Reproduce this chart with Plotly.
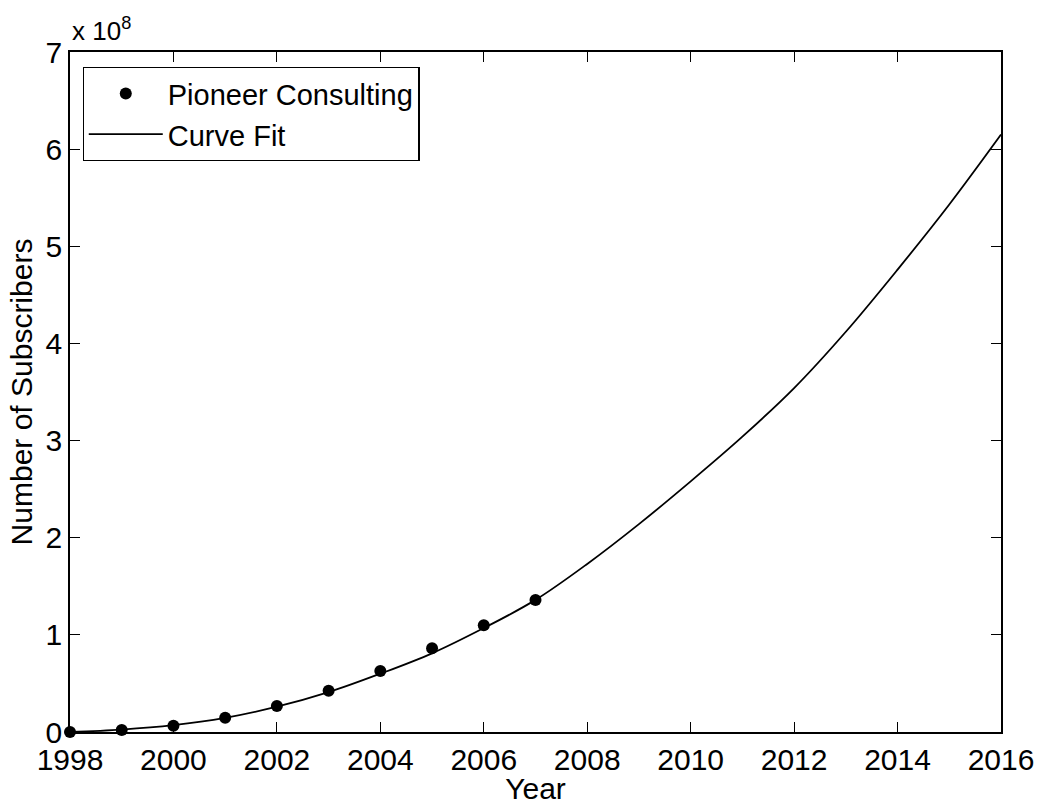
import plotly.graph_objects as go

# Data
pioneer_years = [1998, 1999, 2000, 2001, 2002, 2003, 2004, 2005, 2006, 2007]
pioneer_subs = [0.0e8, 0.02e8, 0.065e8, 0.147e8, 0.268e8, 0.425e8, 0.628e8, 0.862e8, 1.099e8, 1.36e8]

fit_years = [1998, 1999, 2000, 2001, 2002, 2003, 2004, 2005, 2006, 2007,
             2008, 2009, 2010, 2011, 2012, 2013, 2014, 2015, 2016]
fit_subs = [0.0e8, 0.025e8, 0.07e8, 0.145e8, 0.26e8, 0.41e8, 0.60e8, 0.81e8, 1.07e8, 1.36e8,
            1.73e8, 2.14e8, 2.58e8, 3.04e8, 3.54e8, 4.12e8, 4.76e8, 5.43e8, 6.15e8]

x_ticks = [1998, 2000, 2002, 2004, 2006, 2008, 2010, 2012, 2014, 2016]
y_ticks = [0, 1e8, 2e8, 3e8, 4e8, 5e8, 6e8, 7e8]
y_ticktext = ["0", "1", "2", "3", "4", "5", "6", "7"]

FONT = "Liberation Sans, Arial, Helvetica, sans-serif"
FS = 30

fig = go.Figure()
fig.add_trace(go.Scatter(
    x=pioneer_years, y=pioneer_subs, mode="markers", name="Pioneer Consulting",
    marker=dict(color="black", size=12), cliponaxis=False))
fig.add_trace(go.Scatter(
    x=fit_years, y=fit_subs, mode="lines", name="Curve Fit",
    line=dict(color="black", width=1.8, shape="spline", smoothing=1.0)))

axis_common = dict(
    showgrid=False, zeroline=False, showline=True, linecolor="black", linewidth=1.5,
    mirror="ticks", ticks="inside", ticklen=10, tickwidth=1.2, tickcolor="black",
    tickfont=dict(family=FONT, size=FS, color="black"), automargin=False,
)

fig.update_layout(
    width=1041, height=805,
    margin=dict(l=70, r=40, t=52, b=73),
    paper_bgcolor="white", plot_bgcolor="white",
    font=dict(family=FONT, color="black"),
    xaxis=dict(range=[1998, 2016], tickvals=x_ticks, ticktext=[str(v) for v in x_ticks],
               title=dict(text="Year", font=dict(family=FONT, size=FS), standoff=0),
               **axis_common),
    yaxis=dict(range=[0, 7e8], tickvals=y_ticks, ticktext=y_ticktext,
               title=dict(text="Number of Subscribers", font=dict(family=FONT, size=FS), standoff=4),
               **axis_common),
    legend=dict(x=0.0135, y=0.978, xanchor="left", yanchor="top",
                bgcolor="white", bordercolor="black", borderwidth=1.2,
                font=dict(family=FONT, size=29, color="black"),
                itemwidth=74, tracegroupgap=0),
    showlegend=True,
    annotations=[dict(text="x 10<sup>8</sup>", xref="paper", yref="paper", x=0, y=1,
                      xanchor="left", yanchor="bottom", showarrow=False, xshift=0, yshift=4,
                      font=dict(family=FONT, size=26, color="black"))],
)

fig.write_html("out.html")
